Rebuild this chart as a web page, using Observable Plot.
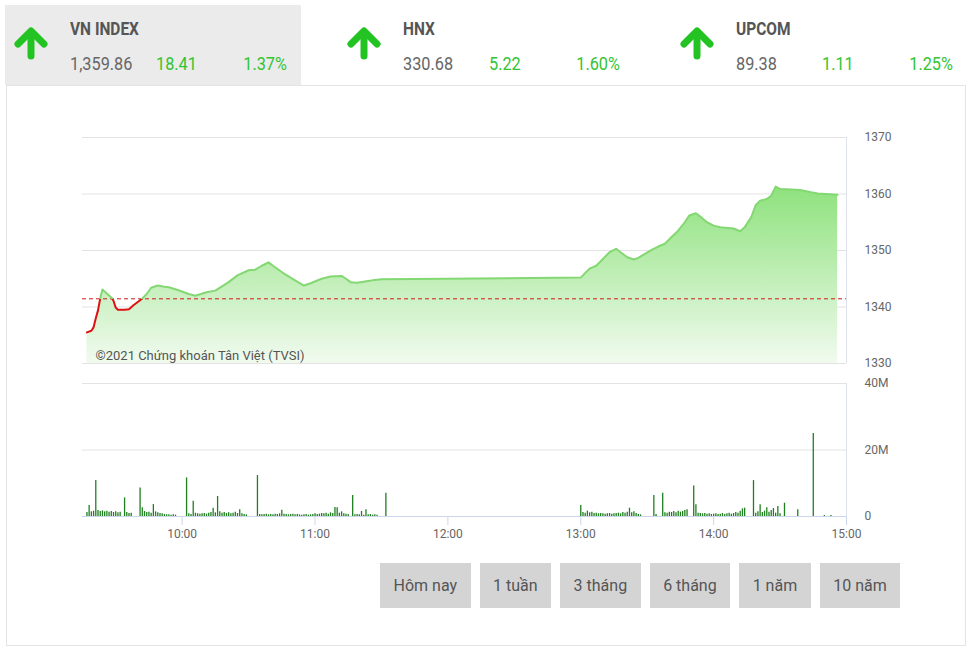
<!DOCTYPE html>
<html><head><meta charset="utf-8">
<script src="https://cdn.jsdelivr.net/npm/d3@7"></script>
<script src="https://cdn.jsdelivr.net/npm/@observablehq/plot@0.6"></script>
<style>
html,body{margin:0;padding:0;background:#fff;}
body{width:973px;height:652px;position:relative;overflow:hidden;font-family:Roboto,"Noto Sans",sans-serif;}
.tile{position:absolute;top:5px;width:296px;height:80px;}
.tile svg.arrow{position:absolute;left:8px;top:21px;}
.tname{position:absolute;left:65px;top:15px;font-size:18px;line-height:1;font-weight:700;color:#555;transform:scaleX(.86);transform-origin:left;white-space:nowrap;}
.tval{position:absolute;top:51px;font-size:17.5px;line-height:1;color:#666;transform:scaleX(.93);transform-origin:left;white-space:nowrap;}
.tchg{color:#33c433;}
.tpct{position:absolute;top:51px;right:14px;font-size:17.5px;line-height:1;color:#33c433;transform:scaleX(.93);transform-origin:right;white-space:nowrap;}
.panel{position:absolute;left:6px;top:85px;width:960px;height:561px;border:1px solid #e4e4e4;box-sizing:border-box;}
.chart{position:absolute;left:0;}
.btns{position:absolute;left:380px;top:563px;display:flex;gap:9px;}
.btn{height:45px;line-height:45px;background:#d4d4d4;color:#555;font-size:16px;padding:0 13.5px;white-space:nowrap;}
</style></head><body>
<div class="panel"></div>
<div id="header"></div>
<div id="price" class="chart" style="top:120px"></div>
<div id="volume" class="chart" style="top:370px"></div>
<div class="btns" id="btns"></div>
<script>
// ---- header data
const indexNames = ["VN INDEX", "HNX", "UPCOM"];
const indexValues = ["1,359.86", "330.68", "89.38"];
const indexChanges = ["18.41", "5.22", "1.11"];
const indexPercents = ["1.37%", "1.60%", "1.25%"];

// ---- intraday VN-Index
const priceTimes = ["09:17","09:19","09:20","09:21","09:22","09:23","09:24","09:26","09:28","09:29","09:30","09:31",
  "09:34","09:36","09:38","09:41","09:42","09:44","09:46","09:49","09:52","09:54","09:58",
  "10:03","10:06","10:11","10:15","10:21","10:25","10:30","10:33","10:36","10:39","10:41","10:45","10:46","10:51","10:55","10:58",
  "11:03","11:07","11:12","11:14","11:16","11:19","11:24","11:27","11:30",
  "13:00","13:01","13:04","13:07","13:10","13:13","13:16","13:18","13:21","13:24","13:26","13:29","13:32","13:35","13:38","13:41","13:44","13:47","13:49","13:52","13:54","13:57",
  "14:00","14:03","14:09","14:12","14:14","14:17","14:19","14:21","14:24","14:26","14:28","14:30","14:35","14:39","14:44","14:47","14:56"];
const priceValues = [1335.5,1335.8,1336.4,1338.0,1339.4,1341.5,1343.1,1342.4,1341.7,1341.1,1339.9,1339.5,
  1339.5,1339.6,1340.3,1341.2,1341.5,1342.3,1343.4,1343.8,1343.6,1343.5,1343.0,
  1342.3,1342.0,1342.6,1342.9,1344.4,1345.6,1346.5,1346.6,1347.3,1347.9,1347.3,1346.2,1345.9,1344.7,1343.8,1344.2,
  1345.0,1345.4,1345.5,1345.0,1344.4,1344.3,1344.6,1344.8,1344.9,
  1345.2,1345.6,1346.8,1347.3,1348.5,1349.7,1350.3,1349.7,1348.8,1348.4,1348.7,1349.4,1350.1,1350.7,1351.2,1352.4,1353.5,1355.0,1356.2,1356.6,1356.0,1355.0,
  1354.4,1354.1,1353.9,1353.4,1354.1,1355.9,1358.0,1358.8,1359.1,1359.7,1361.3,1360.9,1360.8,1360.7,1360.3,1360.1,1359.86];
const referenceValue = 1341.45;

// ---- volume (millions of shares)
const volTimes = ["09:17","09:18","09:19","09:20","09:21","09:22","09:23","09:24","09:25","09:26","09:27","09:28","09:29","09:30","09:31","09:32",
  "09:34","09:35","09:36","09:37","09:41","09:42","09:43","09:44","09:45","09:46","09:47","09:48","09:49","09:50","09:51","09:52","09:53","09:54","09:55","09:56","09:57",
  "10:02","10:03","10:04","10:05","10:06","10:07","10:08","10:09","10:10","10:11","10:12","10:13","10:14","10:15","10:16","10:17","10:18","10:19","10:20","10:21","10:22","10:23","10:24","10:25","10:26","10:27","10:28","10:29",
  "10:34","10:35","10:36","10:37","10:38","10:39","10:40","10:41","10:42","10:43","10:44","10:45","10:46","10:47","10:48","10:49","10:50","10:51","10:52","10:53","10:54","10:55","10:56","10:57","10:58","10:59",
  "11:00","11:01","11:02","11:03","11:04","11:05","11:06","11:07","11:08","11:09","11:10","11:11","11:12","11:13","11:14","11:15","11:17","11:18","11:19","11:20","11:21","11:22","11:23","11:24","11:25","11:26","11:27","11:28","11:32",
  "13:00","13:01","13:02","13:03","13:04","13:05","13:06","13:07","13:08","13:09","13:10","13:11","13:12","13:13","13:14","13:15","13:16","13:17","13:18","13:19","13:20","13:21","13:22","13:23","13:24","13:25","13:26","13:27",
  "13:33","13:34","13:37","13:38","13:39","13:40","13:41","13:42","13:43","13:44","13:45","13:46","13:47","13:48","13:51","13:52","13:53","13:54","13:55","13:56","13:57","13:58","13:59",
  "14:00","14:01","14:02","14:03","14:04","14:05","14:06","14:07","14:08","14:09","14:10","14:11","14:12","14:13","14:14","14:18","14:19","14:20","14:21","14:22","14:23","14:24","14:25","14:26","14:27","14:28","14:29","14:30","14:32","14:38","14:45","14:50","14:53"];
const volValues = [1.2,3.3,1.4,1.6,10.8,1.8,1.5,1.7,1.4,1.6,1.3,1.5,1.2,1.4,1.1,1.3,
  5.6,1.2,0.9,1.0,8.6,2.6,1.5,1.2,1.3,1.0,3.6,1.4,1.1,0.9,0.8,0.6,0.5,0.5,0.4,0.5,0.4,
  11.6,0.8,0.6,4.6,1.0,0.8,0.7,0.8,0.9,0.7,1.0,1.2,2.5,1.1,6.0,1.4,1.0,1.2,0.9,1.1,0.8,1.0,1.3,0.9,2.0,0.8,0.6,0.5,
  12.3,0.6,0.5,0.6,0.7,0.5,0.6,0.5,0.7,0.6,0.8,1.9,0.7,0.6,0.5,0.6,0.7,0.5,0.6,0.5,0.4,0.5,0.6,0.4,0.5,0.6,
  0.8,0.6,0.7,0.9,0.8,1.0,0.7,1.1,0.9,2.7,2.6,1.0,1.4,0.8,0.7,0.6,6.3,0.5,0.6,0.5,1.5,0.4,2.0,0.5,0.6,0.4,0.5,0.4,7.0,
  3.3,1.2,1.0,1.6,1.1,1.3,0.9,1.0,0.8,0.9,0.8,0.7,0.8,0.9,0.7,0.8,0.9,1.0,0.8,1.2,1.0,1.3,2.5,1.1,1.4,0.9,0.6,0.5,
  6.3,0.6,7.0,1.1,1.0,1.3,1.2,1.5,1.1,1.6,1.3,1.5,1.8,2.0,9.2,3.5,1.0,0.9,0.8,0.9,0.7,0.8,0.6,
  0.7,0.8,0.6,0.7,0.9,0.6,0.8,1.0,0.7,0.9,1.2,1.0,1.6,2.3,2.5,10.8,1.0,1.4,3.5,1.2,1.6,2.6,1.3,1.8,2.4,1.0,3.0,0.8,4.0,2.0,25.0,0.3,0.3];

// ---- axes
const priceTicks = [1330, 1340, 1350, 1360, 1370];
const volTicks = [0, 20, 40];
const volTickLabels = ["0", "20M", "40M"];
const timeTicks = ["10:00", "11:00", "12:00", "13:00", "14:00", "15:00"];
const timeDomain = ["09:15", "15:00"];
const copyright = "©2021 Chứng khoán Tân Việt (TVSI)";
const buttons = ["Hôm nay", "1 tuần", "3 tháng", "6 tháng", "1 năm", "10 năm"];

// ---------------- header
const header = document.getElementById("header");
indexNames.forEach((name, i) => {
  const tile = document.createElement("div");
  tile.className = "tile";
  tile.style.left = (5 + i * 333) + "px";
  if (i === 0) tile.style.background = "#ebebeb";
  tile.innerHTML = `<svg class="arrow" width="36" height="34" viewBox="0 0 36 34">
      <polyline points="5,18 18,5 31,18" fill="none" stroke="#22c322" stroke-width="7" stroke-linecap="round" stroke-linejoin="round"/>
      <line x1="18" y1="7" x2="18" y2="30" stroke="#22c322" stroke-width="7" stroke-linecap="round"/></svg>
    <span class="tname">${name}</span>
    <span class="tval" style="left:65px">${indexValues[i]}</span>
    <span class="tval tchg" style="left:151px">${indexChanges[i]}</span>
    <span class="tpct">${indexPercents[i]}</span>`;
  header.appendChild(tile);
});

// ---------------- charts
const parseT = s => { const [h, m] = s.split(":").map(Number); return new Date(Date.UTC(2021, 0, 4, h, m)); };
const xDomain = timeDomain.map(parseT);
const priceData = priceTimes.map((t, i) => ({t: parseT(t), v: priceValues[i]}));
const volData = volTimes.map((t, i) => ({t: parseT(t), v: volValues[i]}));

const W = 973, PH = 255, VH = 180;
const common = {width: W, marginLeft: 82, marginRight: 127,
  style: {fontFamily: "Roboto, sans-serif", fontSize: "12px", color: "#666", background: "transparent", overflow: "visible"}};

const pricePlot = Plot.plot({
  ...common, height: PH, marginTop: 17, marginBottom: 12,
  x: {type: "utc", domain: xDomain, axis: null},
  y: {domain: [priceTicks[0], priceTicks[priceTicks.length - 1]], ticks: priceTicks, axis: "right", tickSize: 0, tickPadding: 18, label: null, tickFormat: d => String(d)},
  marks: [
    Plot.ruleY(priceTicks, {stroke: "#e3e3e3", strokeWidth: 1}),
    Plot.areaY(priceData, {x: "t", y1: priceTicks[0], y2: "v", fill: "url(#areaGrad)"}),
    Plot.ruleY([referenceValue], {stroke: "#d01a1a", strokeDasharray: "4,3", strokeWidth: 1}),
    Plot.line(priceData, {x: "t", y: "v", stroke: "url(#lineGrad)", strokeWidth: 2}),
    Plot.ruleX([xDomain[1]], {stroke: "#dde2ea", strokeWidth: 1}),
    Plot.text([copyright], {frameAnchor: "bottom-left", textAnchor: "start", lineAnchor: "bottom", dx: 13, dy: -4, fontSize: 13, fill: "#555"})
  ]
});
document.getElementById("price").appendChild(pricePlot);

// gradients
const psvg = d3.select(pricePlot);
const refY = pricePlot.scale("y").apply(referenceValue);
const defs = psvg.insert("defs", ":first-child");
const lg = defs.append("linearGradient").attr("id", "lineGrad").attr("gradientUnits", "userSpaceOnUse")
  .attr("x1", 0).attr("x2", 0).attr("y1", 0).attr("y2", PH);
lg.append("stop").attr("offset", refY / PH).attr("stop-color", "#84d873");
lg.append("stop").attr("offset", refY / PH).attr("stop-color", "#dd1212");
const ag = defs.append("linearGradient").attr("id", "areaGrad").attr("x1", 0).attr("x2", 0).attr("y1", 0).attr("y2", 1);
ag.append("stop").attr("offset", 0).attr("stop-color", "#8ee27d");
ag.append("stop").attr("offset", 0.55).attr("stop-color", "#c4efbb");
ag.append("stop").attr("offset", 1).attr("stop-color", "#f1fbef");

const volPlot = Plot.plot({
  ...common, height: VH, marginTop: 13, marginBottom: 34,
  x: {type: "utc", domain: xDomain, ticks: timeTicks.map(parseT), tickFormat: d3.utcFormat("%H:%M"), tickSize: 9, tickPadding: 4, label: null},
  y: {domain: [volTicks[0], volTicks[volTicks.length - 1]], ticks: volTicks, axis: "right", tickSize: 0, tickPadding: 18, label: null,
      tickFormat: d => volTickLabels[volTicks.indexOf(d)]},
  marks: [
    Plot.ruleY(volTicks.slice(1), {stroke: "#e3e3e3", strokeWidth: 1}),
    Plot.ruleX(volData, {x: "t", y1: 0, y2: "v", stroke: "#1f7f1f", strokeWidth: 1.3}),
    Plot.ruleY([0], {stroke: "#ccd6eb", strokeWidth: 1}),
    Plot.ruleX([xDomain[1]], {stroke: "#dde2ea", strokeWidth: 1, y1: 0, y2: volTicks[volTicks.length - 1]})
  ]
});
document.getElementById("volume").appendChild(volPlot);
d3.select(volPlot).selectAll('[aria-label^="x-axis"] line, [aria-label^="x-axis"] path').attr("stroke", "#ccd6eb");

// ---------------- buttons
const bdiv = document.getElementById("btns");
buttons.forEach(b => { const d = document.createElement("div"); d.className = "btn"; d.textContent = b; bdiv.appendChild(d); });
</script>
</body></html>
